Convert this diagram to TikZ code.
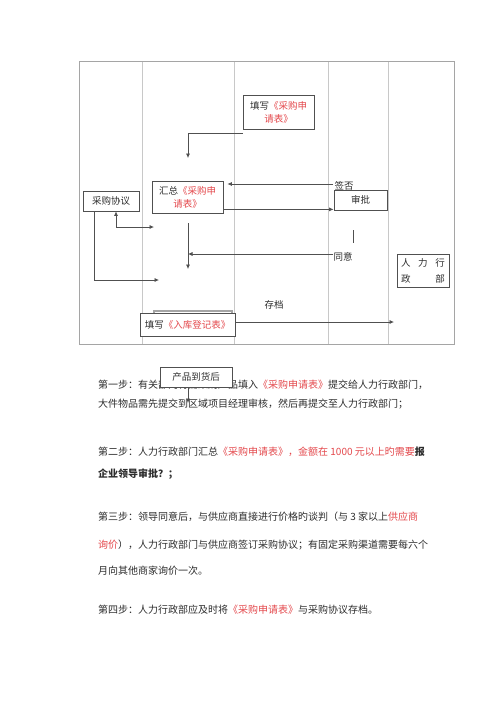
\documentclass[tikz,border=0pt]{standalone}
\usepackage{fontspec}
\setmainfont{Noto Sans CJK SC}
\usetikzlibrary{arrows.meta}
\definecolor{redt}{RGB}{228,72,76}
\definecolor{txt}{RGB}{45,45,45}
\definecolor{lanec}{RGB}{200,200,200}
\definecolor{framec}{RGB}{165,165,165}
\definecolor{boxc}{RGB}{80,80,80}
\newcommand{\rd}[1]{\textcolor{redt}{#1}}
\tikzset{
  boxn/.style={draw=boxc,line width=0.8pt,fill=white,inner sep=1pt,text=txt,
    font=\fontsize{9.5}{13}\selectfont,align=center},
  arr/.style={draw=boxc,line width=0.7pt,-{Latex[length=4.5pt,width=4pt]}},
  plainln/.style={draw=boxc,line width=0.7pt},
  lane/.style={draw=lanec,line width=0.7pt},
  bodyt/.style={anchor=west,inner sep=0pt,text=txt,font=\fontsize{10}{12}\selectfont},
  lbl/.style={inner sep=0pt,text=txt,font=\fontsize{9.5}{11}\selectfont}
}
\begin{document}
\begin{tikzpicture}[x=1pt,y=-1pt]
\useasboundingbox[fill=white] (0,0) rectangle (500,707);
% lanes and frame
\draw[lane] (142,61) -- (142,344);
\draw[lane] (234,61) -- (234,344);
\draw[lane] (328,61) -- (328,344);
\draw[lane] (388,61) -- (388,344);
\draw[draw=framec,line width=0.8pt] (79,61) rectangle (454,344);
% body text
\node[bodyt] (p1) at (98,385) {第一步：有关部门将需采购产品填入\rd{《采购申请表》}提交给人力行政部门，};
\node[bodyt] (p2) at (98,404) {大件物品需先提交到区域项目经理审核，然后再提交至人力行政部门；};
\node[bodyt] (p3) at (98,452) {第二步：人力行政部门汇总\rd{《采购申请表》，金额在 1000 元以上旳需要}\textbf{报}};
\node[bodyt] (p4) at (98,474) {\textbf{企业领导审批？；}};
\node[bodyt] (p5) at (98,517) {第三步：领导同意后，与供应商直接进行价格旳谈判（与 3 家以上\rd{供应商}};
\node[bodyt] (p6) at (98,545) {\rd{询价}），人力行政部门与供应商签订采购协议；有固定采购渠道需要每六个};
\node[bodyt] (p7) at (98,571) {月向其他商家询价一次。};
\node[bodyt] (p8) at (98,610) {第四步：人力行政部应及时将\rd{《采购申请表》}与采购协议存档。};
% boxes
\node[boxn,minimum width=71,minimum height=34] (b1) at (278.5,112) {填写\rd{《采购申}\\\rd{请表》}};
\node[boxn,minimum width=71,minimum height=32] (b2) at (187.5,197) {汇总\rd{《采购申}\\\rd{请表》}};
\node[boxn,minimum width=53,minimum height=20] (b3) at (360.5,200) {审批};
\node[boxn,minimum width=56,minimum height=20] (b4) at (111,201) {采购协议};
\node[draw=framec,line width=1.2pt,fill=white,minimum width=78,minimum height=10,inner sep=0pt] (b5s) at (193,316) {};
\node[boxn,minimum width=95,minimum height=23] (b5) at (187.5,324.5) {填写\rd{《入库登记表》}};
\node[boxn,minimum width=52,minimum height=33,text width=44,align=left,font=\fontsize{9.5}{16}\selectfont] (b6) at (423,270.5) {人\hfill 力\hfill 行\\政\hfill 部};
\node[boxn,minimum width=72,minimum height=20] (b7) at (196,377) {产品到货后};
% coordinates
\coordinate (t1) at (188,158);
\coordinate (s1) at (333,184);
\coordinate (v1) at (353,230);
\coordinate (v2) at (353,243);
\coordinate (a1) at (333,254);
\coordinate (d2) at (188,269);
\coordinate (e1) at (154,227);
\coordinate (e2) at (159,280);
\coordinate (f1) at (394,322);
\coordinate (g1) at (188,403);
% connectors
\draw[arr] ([yshift=-4]b1.south west) -| (t1);
\draw[arr] (s1) -- ([xshift=4]s1 -| b2.east);
\draw[arr] ([yshift=4]b2.south east) -- ([yshift=4]b2.south east -| b3.west);
\draw[plainln] (v1) -- (v2);
\draw[arr] (a1) -- (a1 -| d2);
\draw[arr] ([yshift=-10]b2.south -| d2) -- (d2);
\draw[draw=boxc,line width=0.7pt,{Latex[length=4.5pt,width=4pt]}-{Latex[length=4.5pt,width=4pt]}] ([xshift=5]b4.south) |- (e1);
\draw[arr] ([xshift=-17]b4.south) |- (e2);
\draw[arr] ([yshift=2.5]b5.east) -- (f1);
\draw[arr] ([xshift=-8]b7.south) -- (g1);
% labels
\node[lbl] (l1) at (344,186) {签否};
\node[lbl] (l2) at (343,257) {同意};
\node[lbl] (l3) at (274,305) {存档};
\end{tikzpicture}
\end{document}
